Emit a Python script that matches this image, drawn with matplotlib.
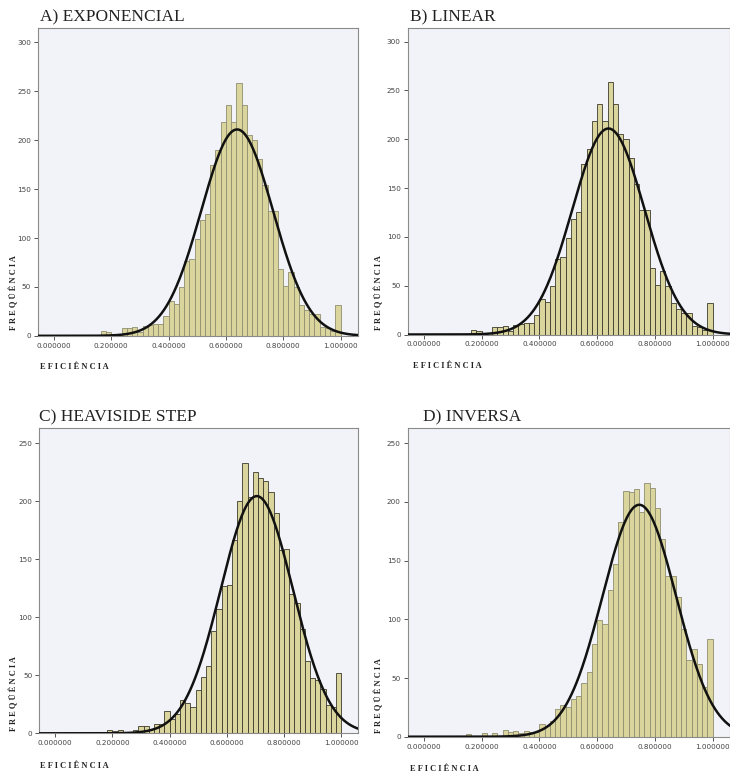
import numpy as np
import matplotlib
matplotlib.use("Agg")
import matplotlib.pyplot as plt

# bins: 55 equal bins over [0, 1] (11 bars per 0.2 step, as in the SPSS output)
n_bins = 55
bin_w = 1.0 / n_bins
bin_left = np.arange(n_bins) * bin_w

counts_exponencial = [0, 0, 0, 0, 0, 0, 1, 1, 0, 5, 4, 1, 2, 8, 8, 9, 4, 10, 11, 12, 12, 20,
                      36, 33, 50, 77, 79, 99, 118, 125, 175, 190, 219,
                      236, 219, 259, 236, 205, 200, 181, 154, 128, 128, 68,
                      51, 65, 50, 32, 26, 22, 22, 9, 8, 5, 32]
counts_linear = [0, 0, 0, 0, 0, 0, 1, 1, 0, 5, 4, 1, 2, 8, 8, 9, 4, 10, 11, 12, 12, 20,
                 36, 33, 50, 77, 79, 99, 118, 125, 175, 190, 219,
                 236, 219, 259, 236, 205, 200, 181, 154, 128, 128, 68,
                 51, 65, 50, 32, 26, 22, 22, 9, 8, 5, 32]
counts_heaviside = [0, 0, 0, 0, 0, 0, 1, 1, 1, 0, 3, 2, 3, 1, 1, 3, 6, 6, 4, 8, 8, 19,
                    12, 17, 29, 26, 23, 37, 49, 58, 88, 107, 127,
                    128, 167, 200, 233, 204, 225, 220, 218, 208, 190, 158,
                    159, 120, 112, 90, 62, 48, 46, 38, 24, 23, 52]
counts_inversa = [0, 0, 0, 0, 0, 0, 0, 0, 2, 0, 0, 3, 0, 3, 0, 6, 4, 5, 3, 5, 4, 4,
                  11, 9, 13, 24, 27, 25, 32, 35, 46, 55, 79,
                  99, 96, 125, 147, 183, 209, 208, 211, 191, 216, 212,
                  195, 168, 137, 137, 119, 92, 65, 75, 62, 42, 83]

titles = ["A) EXPONENCIAL", "B) LINEAR", "C) HEAVISIDE STEP", "D) INVERSA"]
x_ticks = [0.0, 0.2, 0.4, 0.6, 0.8, 1.0]
y_ticks_top = [0, 50, 100, 150, 200, 250, 300]
y_ticks_bottom = [0, 50, 100, 150, 200, 250]

panels = [
    # counts, rect (fig fraction), ylim top, yticks, edge colour, title pos, xlabel pos, ylabel pos
    (counts_exponencial, [0.052, 0.565, 0.438, 0.399], 315, y_ticks_top, "#8f8d70",
     (40, 21), (40, 369), (14, 330)),
    (counts_linear, [0.5585, 0.5667, 0.4415, 0.397], 314, y_ticks_top, "#3c3a2c",
     (410, 21), (413, 368), (379, 330)),
    (counts_heaviside, [0.0538, 0.0501, 0.437, 0.395], 263, y_ticks_bottom, "#3c3a2c",
     (39, 421), (40, 768), (14, 731)),
    (counts_inversa, [0.5585, 0.0457, 0.4415, 0.400], 263, y_ticks_bottom, "#8f8d70",
     (423, 421), (410, 771), (379, 733)),
]

W, H = 730, 772
fig = plt.figure(figsize=(W / 100, H / 100), dpi=100)
fig.patch.set_facecolor("white")

bar_color = "#dad59c"
grid_bg = "#f1f3f8"

for (counts, rect, ytop, yticks, edge, tpos, xlpos, ylpos), title in zip(panels, titles):
    ax = fig.add_axes(rect)
    ax.set_facecolor(grid_bg)
    counts = np.array(counts, dtype=float)
    ax.bar(bin_left, counts, width=bin_w, align="edge", color=bar_color,
           edgecolor=edge, linewidth=0.6, zorder=2)

    # normal curve from the binned data
    centers = bin_left + bin_w / 2
    n = counts.sum()
    mu = (centers * counts).sum() / n
    sd = np.sqrt(((centers - mu) ** 2 * counts).sum() / (n - 1))
    xs = np.linspace(-0.06, 1.07, 400)
    ys = n * bin_w * np.exp(-0.5 * ((xs - mu) / sd) ** 2) / (sd * np.sqrt(2 * np.pi))
    ax.plot(xs, ys, color="#111111", lw=1.8, zorder=3)

    ax.set_xlim(-0.056, 1.06)
    ax.set_ylim(0, ytop)
    ax.set_xticks(x_ticks)
    ax.set_xticklabels([f"{t:.6f}" for t in x_ticks])
    ax.set_yticks(yticks)
    ax.tick_params(axis="both", labelsize=5.2, colors="#555555", length=3, width=0.7,
                   pad=2, labelcolor="#444444")
    for s in ax.spines.values():
        s.set_color("#8a8a8a")
        s.set_linewidth(0.8)

    fig.text(tpos[0] / W, 1 - tpos[1] / H, title, fontsize=12.5,
             family="Liberation Serif", color="#222222", ha="left", va="baseline")
    fig.text(xlpos[0] / W, 1 - xlpos[1] / H, " ".join("EFICIÊNCIA"), fontsize=6,
             family="Liberation Serif", fontweight="bold", color="#222222",
             ha="left", va="baseline")
    fig.text(ylpos[0] / W, 1 - ylpos[1] / H, " ".join("FREQÜÊNCIA"), fontsize=6,
             family="Liberation Serif", fontweight="bold", color="#222222",
             rotation=90, ha="center", va="bottom")

fig.savefig("out.png", dpi=100, facecolor="white")
